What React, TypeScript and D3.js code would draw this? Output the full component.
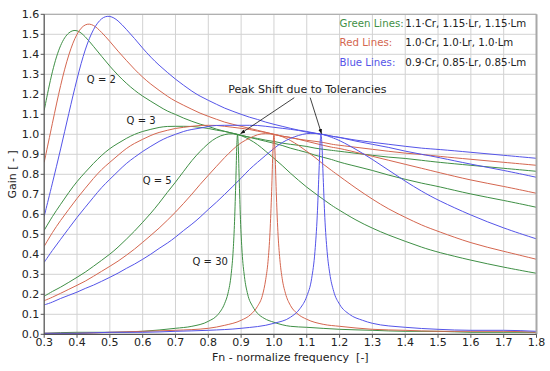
import React from 'react';
import * as d3 from 'd3';

// normalized frequency grid shared by the Q = 2, 3, 5 curves
const fn = [0.3, 0.325, 0.35, 0.375, 0.4, 0.425, 0.45, 0.475, 0.5, 0.525, 0.55, 0.575, 0.6, 0.625, 0.65, 0.675, 0.7, 0.725, 0.75, 0.775, 0.8, 0.825, 0.85,
  0.875, 0.9, 0.925, 0.95, 0.975, 1.0, 1.025, 1.05, 1.075, 1.1, 1.125, 1.15, 1.175, 1.2, 1.25, 1.3, 1.35, 1.4, 1.45, 1.5, 1.6, 1.7, 1.8];

// Q = 2
const greenQ2 = [1.12, 1.325, 1.455, 1.515, 1.525, 1.49, 1.44, 1.39, 1.34, 1.295, 1.255, 1.22, 1.19, 1.165, 1.14, 1.115, 1.1, 1.08, 1.065, 1.05, 1.04, 1.025, 1.015,
  1.005, 0.995, 0.985, 0.98, 0.97, 0.965, 0.955, 0.95, 0.945, 0.94, 0.93, 0.925, 0.92, 0.915, 0.905, 0.895, 0.885, 0.88, 0.87, 0.86, 0.845, 0.83, 0.815];
const redQ2 = [0.86, 1.055, 1.25, 1.405, 1.51, 1.555, 1.55, 1.51, 1.465, 1.415, 1.37, 1.325, 1.285, 1.25, 1.22, 1.19, 1.165, 1.145, 1.125, 1.105, 1.09, 1.075, 1.06,
  1.05, 1.04, 1.03, 1.02, 1.01, 1.0, 0.99, 0.985, 0.975, 0.97, 0.965, 0.96, 0.95, 0.945, 0.935, 0.925, 0.915, 0.905, 0.9, 0.89, 0.875, 0.86, 0.845];
const blueQ2 = [0.59, 0.755, 0.925, 1.105, 1.28, 1.43, 1.53, 1.585, 1.595, 1.57, 1.525, 1.48, 1.43, 1.385, 1.345, 1.31, 1.275, 1.245, 1.215, 1.19, 1.17, 1.15, 1.13,
  1.115, 1.1, 1.085, 1.075, 1.06, 1.05, 1.04, 1.03, 1.02, 1.015, 1.005, 1.0, 0.99, 0.985, 0.97, 0.96, 0.95, 0.94, 0.93, 0.925, 0.91, 0.895, 0.88];

// Q = 3
const greenQ3 = [0.52, 0.59, 0.65, 0.71, 0.765, 0.81, 0.855, 0.895, 0.93, 0.955, 0.98, 1.0, 1.015, 1.025, 1.035, 1.04, 1.04, 1.04, 1.04, 1.035, 1.03, 1.02, 1.015,
  1.005, 0.995, 0.985, 0.975, 0.965, 0.955, 0.945, 0.93, 0.92, 0.91, 0.895, 0.885, 0.875, 0.86, 0.84, 0.82, 0.795, 0.775, 0.755, 0.74, 0.7, 0.67, 0.635];
const redQ3 = [0.44, 0.51, 0.57, 0.625, 0.68, 0.73, 0.78, 0.825, 0.86, 0.895, 0.93, 0.955, 0.975, 0.995, 1.01, 1.02, 1.03, 1.035, 1.04, 1.045, 1.045, 1.045, 1.04,
  1.035, 1.03, 1.025, 1.015, 1.01, 1.0, 0.99, 0.985, 0.975, 0.965, 0.955, 0.945, 0.935, 0.93, 0.91, 0.89, 0.87, 0.85, 0.83, 0.81, 0.77, 0.74, 0.705];
const blueQ3 = [0.36, 0.42, 0.475, 0.53, 0.585, 0.635, 0.685, 0.735, 0.775, 0.815, 0.855, 0.885, 0.915, 0.94, 0.965, 0.985, 1.0, 1.015, 1.025, 1.03, 1.04, 1.045, 1.045,
  1.045, 1.045, 1.045, 1.045, 1.04, 1.035, 1.03, 1.025, 1.02, 1.01, 1.005, 1.0, 0.99, 0.985, 0.965, 0.95, 0.935, 0.915, 0.9, 0.885, 0.85, 0.82, 0.785];

// Q = 5
const greenQ5 = [0.19, 0.215, 0.235, 0.26, 0.285, 0.31, 0.34, 0.37, 0.4, 0.435, 0.475, 0.515, 0.56, 0.605, 0.655, 0.71, 0.76, 0.815, 0.87, 0.915, 0.955, 0.985, 1.0,
  1.005, 0.995, 0.975, 0.95, 0.915, 0.88, 0.845, 0.805, 0.77, 0.735, 0.705, 0.675, 0.645, 0.62, 0.57, 0.53, 0.495, 0.465, 0.435, 0.41, 0.37, 0.335, 0.305];
const redQ5 = [0.168, 0.185, 0.205, 0.225, 0.245, 0.265, 0.29, 0.315, 0.34, 0.365, 0.395, 0.425, 0.46, 0.495, 0.53, 0.57, 0.61, 0.655, 0.7, 0.75, 0.795, 0.84, 0.885,
  0.925, 0.96, 0.98, 1.0, 1.005, 1.0, 0.99, 0.97, 0.945, 0.915, 0.885, 0.85, 0.82, 0.79, 0.73, 0.675, 0.625, 0.585, 0.545, 0.515, 0.455, 0.415, 0.375];
const blueQ5 = [0.147, 0.16, 0.18, 0.195, 0.21, 0.23, 0.245, 0.265, 0.285, 0.305, 0.33, 0.35, 0.375, 0.4, 0.43, 0.455, 0.485, 0.52, 0.55, 0.585, 0.625, 0.66, 0.7,
  0.74, 0.78, 0.825, 0.86, 0.895, 0.93, 0.96, 0.98, 0.995, 1.005, 1.005, 1.0, 0.985, 0.97, 0.925, 0.875, 0.82, 0.765, 0.715, 0.67, 0.595, 0.53, 0.477];

// Q = 30: sharp resonance spikes, each sampled on its own grid
const fnGreenQ30 = [0.3, 0.4, 0.5, 0.6, 0.7, 0.75, 0.8, 0.83, 0.85, 0.86, 0.87, 0.876, 0.88, 0.884, 0.887, 0.889, 0.891, 0.894, 0.898, 0.903, 0.91, 0.92, 0.935,
  0.95, 0.97, 1.0, 1.05, 1.1, 1.2, 1.3, 1.4, 1.5, 1.6, 1.7, 1.8];
const greenQ30 = [0.005, 0.01, 0.01, 0.015, 0.03, 0.04, 0.065, 0.1, 0.155, 0.205, 0.305, 0.425, 0.565, 0.775, 0.95, 1.0, 0.955, 0.785, 0.575, 0.41, 0.29, 0.2, 0.14,
  0.105, 0.08, 0.06, 0.04, 0.035, 0.025, 0.02, 0.015, 0.015, 0.01, 0.01, 0.01];
const fnRedQ30 = [0.3, 0.4, 0.5, 0.6, 0.7, 0.8, 0.85, 0.9, 0.93, 0.95, 0.965, 0.975, 0.982, 0.988, 0.993, 0.997, 1.0, 1.003, 1.007, 1.012, 1.018, 1.025, 1.035,
  1.05, 1.07, 1.1, 1.15, 1.2, 1.3, 1.4, 1.5, 1.6, 1.7, 1.8];
const redQ30 = [0.005, 0.005, 0.01, 0.015, 0.02, 0.03, 0.045, 0.07, 0.1, 0.14, 0.195, 0.275, 0.365, 0.51, 0.715, 0.925, 1.0, 0.92, 0.715, 0.515, 0.375, 0.28, 0.205,
  0.145, 0.105, 0.075, 0.05, 0.04, 0.025, 0.02, 0.015, 0.015, 0.015, 0.01];
const fnBlueQ30 = [0.3, 0.4, 0.5, 0.6, 0.7, 0.8, 0.9, 1.0, 1.05, 1.08, 1.1, 1.115, 1.125, 1.132, 1.137, 1.141, 1.143, 1.146, 1.15, 1.155, 1.162, 1.17, 1.182,
  1.2, 1.23, 1.27, 1.3, 1.4, 1.5, 1.6, 1.7, 1.8];
const blueQ30 = [0.005, 0.005, 0.01, 0.01, 0.015, 0.02, 0.03, 0.055, 0.085, 0.13, 0.19, 0.28, 0.415, 0.595, 0.8, 0.965, 1.0, 0.955, 0.785, 0.585, 0.415, 0.305, 0.215,
  0.15, 0.1, 0.07, 0.055, 0.035, 0.025, 0.02, 0.02, 0.015];

const xTicks = [0.3, 0.4, 0.5, 0.6, 0.7, 0.8, 0.9, 1.0, 1.1, 1.2, 1.3, 1.4, 1.5, 1.6, 1.7, 1.8];
const yTicks = [0.0, 0.1, 0.2, 0.3, 0.4, 0.5, 0.6, 0.7, 0.8, 0.9, 1.0, 1.1, 1.2, 1.3, 1.4, 1.5, 1.6];

const legendLabels = ['Green Lines:', 'Red Lines:', 'Blue Lines:'];
const legendValues = ['1.1·Cr, 1.15·Lr, 1.15·Lm', '1.0·Cr, 1.0·Lr, 1.0·Lm', '0.9·Cr, 0.85·Lr, 0.85·Lm'];
const qLabels = [
  { text: 'Q = 2', fn: 0.43, gain: 1.255 },
  { text: 'Q = 3', fn: 0.551, gain: 1.052 },
  { text: 'Q = 5', fn: 0.6, gain: 0.752 },
  { text: 'Q = 30', fn: 0.752, gain: 0.347 },
];
const peakTargets = [{ fn: 0.898, gain: 1.003 }, { fn: 1.145, gain: 1.003 }];

const GREEN = '#3f8f45';
const RED = '#d4664f';
const BLUE = '#5454e8';
const FONT = '"DejaVu Sans", Verdana, sans-serif';

export default function App() {
  const width = 550;
  const height = 371;
  const x = d3.scaleLinear().domain([0.3, 1.8]).range([44.2, 536.5]);
  const y = d3.scaleLinear().domain([0, 1.6]).range([334.3, 14.3]);

  const line = (xs: number[], ys: number[], spike: boolean) =>
    d3.line<number>()
      .x((_, i) => x(xs[i]))
      .y((d) => y(d))
      .curve(spike ? d3.curveMonotoneX : d3.curveBasis)(ys) || '';

  const curves = [
    { xs: fn, ys: greenQ2, c: GREEN }, { xs: fn, ys: redQ2, c: RED }, { xs: fn, ys: blueQ2, c: BLUE },
    { xs: fn, ys: greenQ3, c: GREEN }, { xs: fn, ys: redQ3, c: RED }, { xs: fn, ys: blueQ3, c: BLUE },
    { xs: fn, ys: greenQ5, c: GREEN }, { xs: fn, ys: redQ5, c: RED }, { xs: fn, ys: blueQ5, c: BLUE },
    { xs: fnGreenQ30, ys: greenQ30, c: GREEN, spike: true },
    { xs: fnRedQ30, ys: redQ30, c: RED, spike: true },
    { xs: fnBlueQ30, ys: blueQ30, c: BLUE, spike: true },
  ];

  const [x0, x1] = x.range();
  const [y0, y1] = y.range();

  // annotation text centre and arrows starting just below it
  const tx = x(1.102);
  const ty = y(1.227);
  const startY = y(1.183);

  return (
    <svg width={width} height={height} style={{ position: 'absolute', left: 0, top: 0, background: '#fff' }} fontFamily={FONT}>
      <defs>
        <clipPath id="plot">
          <rect x={x0} y={y1} width={x1 - x0} height={y0 - y1} />
        </clipPath>
        <marker id="head" viewBox="0 0 10 10" refX="10" refY="5" markerWidth="6" markerHeight="6" orient="auto">
          <path d="M0,1 L10,5 L0,9 z" fill="#111" />
        </marker>
      </defs>

      {/* grid */}
      {xTicks.map((t) => (
        <line key={'gx' + t} x1={x(t)} x2={x(t)} y1={y1} y2={y0} stroke="#d2d2d2" strokeWidth={1} />
      ))}
      {yTicks.map((t) => (
        <line key={'gy' + t} x1={x0} x2={x1} y1={y(t)} y2={y(t)} stroke="#d2d2d2" strokeWidth={1} />
      ))}

      {/* curves */}
      <g clipPath="url(#plot)" fill="none">
        {curves.map((cv, i) => (
          <path key={i} d={line(cv.xs, cv.ys, !!cv.spike)} stroke={cv.c} strokeWidth={1} />
        ))}
      </g>

      {/* frame */}
      <line x1={x0} x2={x1} y1={y1} y2={y1} stroke="#b0b0b0" strokeWidth={1.3} />
      <line x1={x1} x2={x1} y1={y1} y2={y0} stroke="#a8a8a8" strokeWidth={2} />
      <line x1={x0} x2={x0} y1={y1} y2={y0 + 0.6} stroke="#555" strokeWidth={1.2} />
      <line x1={x0} x2={x1} y1={y0} y2={y0} stroke="#555" strokeWidth={1.2} />

      {/* y axis */}
      {yTicks.map((t) => (
        <g key={'ty' + t}>
          <line x1={x0 - 3.5} x2={x0} y1={y(t)} y2={y(t)} stroke="#555" strokeWidth={1} />
          <text x={x0 - 5} y={y(t)} dy="0.36em" textAnchor="end" fontSize={11} fill="#222">
            {d3.format('.1f')(t)}
          </text>
        </g>
      ))}
      {/* x axis */}
      {xTicks.map((t) => (
        <g key={'tx' + t}>
          <line x1={x(t)} x2={x(t)} y1={y0} y2={y0 + 3.5} stroke="#555" strokeWidth={1} />
          <text x={x(t)} y={y0 + 12} textAnchor="middle" fontSize={11} fill="#222">
            {d3.format('.1f')(t)}
          </text>
        </g>
      ))}

      <text x={(x0 + x1) / 2} y={361} textAnchor="middle" fontSize={11} fill="#222" style={{ whiteSpace: 'pre' }}>
        {'Fn - normalize frequency  [-]'}
      </text>
      <text transform={`translate(15.5,${(y0 + y1) / 2}) rotate(-90)`} textAnchor="middle" fontSize={11} fill="#222">
        Gain [ - ]
      </text>

      {/* Q labels */}
      {qLabels.map((q) => (
        <text key={q.text} x={x(q.fn)} y={y(q.gain)} fontSize={10} fill="#222">
          {q.text}
        </text>
      ))}

      {/* peak shift annotation */}
      <text x={tx} y={y(1.205)} textAnchor="middle" fontSize={11} fill="#222">
        Peak Shift due to Tolerancies
      </text>
      {peakTargets.map((p, i) => {
        const px = x(p.fn);
        const py = y(p.gain);
        const sx = tx + ((px - tx) * (startY - ty)) / (py - ty);
        return <line key={i} x1={sx} y1={startY} x2={px} y2={py} stroke="#111" strokeWidth={0.8} markerEnd="url(#head)" />;
      })}

      {/* legend */}
      {legendLabels.map((l, i) => (
        <g key={l} fontSize={10.2}>
          <text x={x(1.2)} y={y(1.539 - i * 0.0975)} fill={[GREEN, RED, BLUE][i]}>{l}</text>
          <text x={x(1.4)} y={y(1.539 - i * 0.0975)} fill="#222">{legendValues[i]}</text>
        </g>
      ))}
    </svg>
  );
}
